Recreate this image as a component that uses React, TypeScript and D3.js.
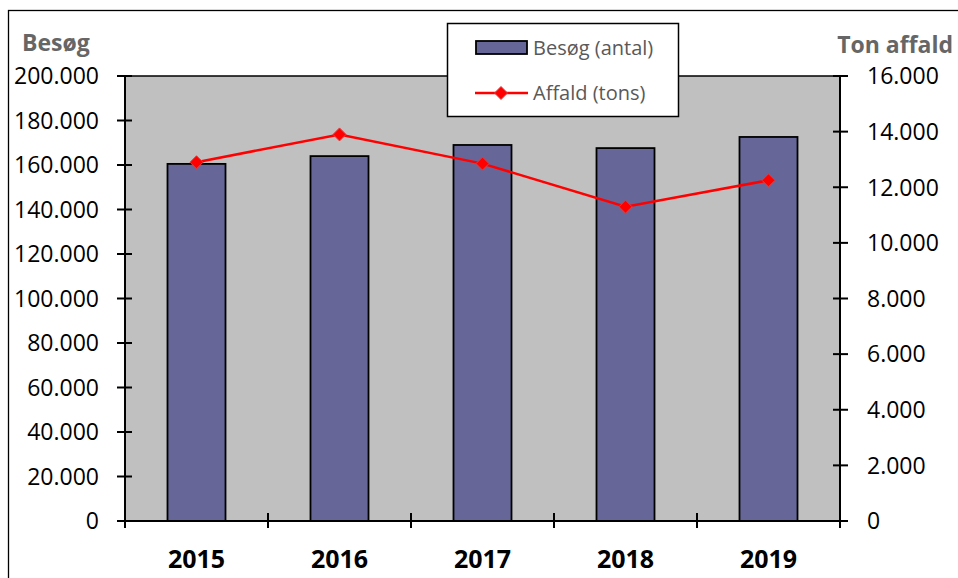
import React from "react";
import * as d3 from "d3";

const years = ["2015", "2016", "2017", "2018", "2019"];
const visits = [160500, 164000, 169000, 167600, 172600];
const waste = [12900, 13900, 12850, 11300, 12250];
const leftTicks = [0, 20000, 40000, 60000, 80000, 100000, 120000, 140000, 160000, 180000, 200000];
const rightTicks = [0, 2000, 4000, 6000, 8000, 10000, 12000, 14000, 16000];
const seriesNames = ["Besøg (antal)", "Affald (tons)"];
const leftTitle = "Besøg";
const rightTitle = "Ton affald";

const W = 958, H = 578;
const PL = 125, PR = 840, PT = 76, PB = 521;
const FONT = "'Open Sans', 'Liberation Sans', sans-serif";
const fmt = (v: number) => (v === 0 ? "0" : d3.format(",")(v).replace(/,/g, "."));

export default function App() {
  const band = d3.scaleBand<string>().domain(years).range([PL, PR]);
  const yL = d3.scaleLinear().domain([0, 200000]).range([PB, PT]);
  const yR = d3.scaleLinear().domain([0, 16000]).range([PB, PT]);
  const cxOf = (y: string) => band(y)! + band.bandwidth() / 2;
  const line = d3.line<number>().x((_, i) => cxOf(years[i])).y((d) => yR(d));
  const diamond = (cx: number, cy: number, r: number) =>
    `M${cx},${cy - r}L${cx + r},${cy}L${cx},${cy + r}L${cx - r},${cy}Z`;
  const boundaries = [...years.map((y) => band(y)!), PR];

  return (
    <svg width={W} height={H} style={{ position: "absolute", left: 0, top: 0 }} fontFamily={FONT}>
      <rect x={0} y={0} width={W} height={H} fill="white" />
      <rect x={8.5} y={10.5} width={W + 10} height={H + 10} fill="none" stroke="black" strokeWidth={1.3} />
      <rect x={PL} y={PT} width={PR - PL} height={PB - PT} fill="#C0C0C0" stroke="black" strokeWidth={1.5} />
      {years.map((y, i) => {
        const bw = 58;
        const cx = cxOf(y);
        return (
          <rect key={y} x={cx - bw / 2} y={yL(visits[i])} width={bw} height={PB - yL(visits[i])}
            fill="#666699" stroke="black" strokeWidth={1.8} />
        );
      })}
      <line x1={PL} x2={PL} y1={PT} y2={PB} stroke="black" strokeWidth={2} />
      <line x1={PR} x2={PR} y1={PT} y2={PB} stroke="black" strokeWidth={2} />
      <line x1={PL} x2={PR} y1={PB} y2={PB} stroke="black" strokeWidth={2} />
      {leftTicks.map((t) => (
        <g key={t}>
          <line x1={PL - 8} x2={PL + 7} y1={yL(t)} y2={yL(t)} stroke="black" strokeWidth={2} />
          <text x={99} y={yL(t)} dy="0.36em" textAnchor="end" fontSize={23} fill="black">{fmt(t)}</text>
        </g>
      ))}
      {rightTicks.map((t) => (
        <g key={t}>
          <line x1={PR - 7} x2={PR + 8} y1={yR(t)} y2={yR(t)} stroke="black" strokeWidth={2} />
          <text x={867} y={yR(t)} dy="0.36em" textAnchor="start" fontSize={23} fill="black">{fmt(t)}</text>
        </g>
      ))}
      {boundaries.map((bx, i) => (
        <line key={i} x1={bx} x2={bx} y1={PB - 8} y2={PB + 7} stroke="black" strokeWidth={2} />
      ))}
      {years.map((y) => (
        <text key={y} x={cxOf(y)} y={568} textAnchor="middle" fontSize={25}
          fontWeight="bold" fill="black">{y}</text>
      ))}
      <path d={line(waste)!} fill="none" stroke="#FF0000" strokeWidth={2.5} />
      {waste.map((v, i) => (
        <path key={i} d={diamond(cxOf(years[i]), yR(v), 6.5)} fill="#FF0000" stroke="#E04040" strokeWidth={1} />
      ))}
      <text x={22} y={51} fontSize={23} fontWeight="bold" fill="#666666">{leftTitle}</text>
      <text x={953} y={53} textAnchor="end" fontSize={23} fontWeight="bold" fill="#666666">{rightTitle}</text>
      <rect x={447.5} y={23.5} width={231} height={93} fill="white" stroke="black" strokeWidth={1.5} />
      <rect x={476} y={41} width={51} height={13} fill="#666699" stroke="black" strokeWidth={1.8} />
      <text x={533} y={55} fontSize={20} fill="#595959">{seriesNames[0]}</text>
      <line x1={475} x2={528} y1={93} y2={93} stroke="#FF0000" strokeWidth={2.5} />
      <path d={diamond(501, 93, 6.5)} fill="#FF0000" stroke="#E04040" strokeWidth={1} />
      <text x={533} y={99.5} fontSize={20} fill="#595959">{seriesNames[1]}</text>
    </svg>
  );
}
